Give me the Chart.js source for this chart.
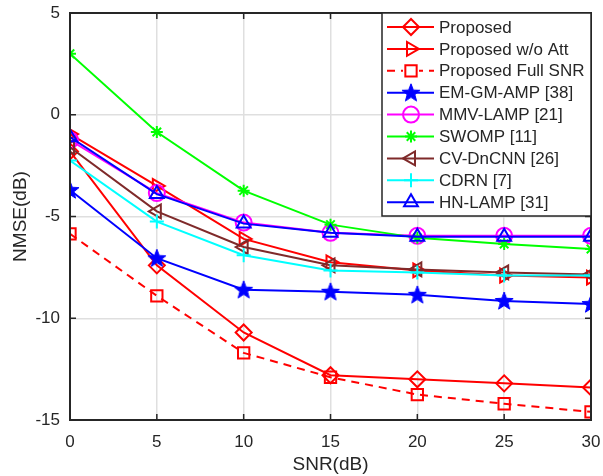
<!DOCTYPE html>
<html>
<head>
<meta charset="utf-8">
<script src="https://cdn.jsdelivr.net/npm/chart.js@4"></script>
<style>
html, body { margin: 0; padding: 0; background: #ffffff; }
#wrap { width: 603px; height: 476px; }
</style>
</head>
<body>
<div id="wrap"><canvas id="nmseChart" width="603" height="476"></canvas></div>
<script>

// SNR points (dB)
const snr = [0, 5, 10, 15, 20, 25, 30];

// NMSE per method (dB)
const proposed     = [-1.8, -7.4, -10.7, -12.8, -13.0, -13.2, -13.4];
const proposedNoAtt = [-0.95, -3.5, -6.1, -7.25, -7.65, -7.9, -8.0];
const proposedFull = [-5.85, -8.9, -11.7, -12.9, -13.75, -14.2, -14.6];
const emGmAmp      = [-3.7, -7.05, -8.6, -8.7, -8.85, -9.15, -9.3];
const mmvLamp      = [-1.25, -3.85, -5.3, -5.8, -5.95, -5.95, -5.95];
const swomp        = [3.0, -0.85, -3.73, -5.4, -6.05, -6.35, -6.6];
const cvDnCnn      = [-1.6, -4.75, -6.5, -7.4, -7.6, -7.75, -7.85];
const cdrn         = [-2.25, -5.25, -6.9, -7.65, -7.75, -7.9, -7.9];
const hnLamp       = [-1.1, -3.9, -5.35, -5.8, -6.0, -6.0, -6.0];

const xTicks = [0, 5, 10, 15, 20, 25, 30];
const yTicks = [-15, -10, -5, 0, 5];

const fontFamily = "'Liberation Sans', Arial, Helvetica, sans-serif";
const textColor = "#262626";

// filled pentagram for EM-GM-AMP
function makeStar(color) {
    let c = document.createElement("canvas");
    c.width = 20;
    c.height = 20;
    let g = c.getContext("2d");
    g.beginPath();
    for (let i = 0; i < 10; i++) {
        let r = i % 2 === 0 ? 9.5 : 4;
        let a = -Math.PI / 2 + i * Math.PI / 5;
        let px = 10 + r * Math.cos(a);
        let py = 10.5 + r * Math.sin(a);
        if (i === 0) g.moveTo(px, py); else g.lineTo(px, py);
    }
    g.closePath();
    g.fillStyle = color;
    g.fill();
    g.strokeStyle = color;
    g.lineWidth = 1;
    g.stroke();
    return c;
}
const starImg = makeStar("#0000ff");

function pts(arr) {
    return arr.map((v, i) => ({ x: snr[i], y: v }));
}

const series = [
    { label: "Proposed", data: proposed, color: "#ff0000", style: "rectRot", radius: 8 },
    { label: "Proposed w/o Att", data: proposedNoAtt, color: "#ff0000", style: "triangle", rotation: 90, radius: 8 },
    { label: "Proposed Full SNR", data: proposedFull, color: "#ff0000", style: "rect", radius: 8, dash: [8, 6] },
    { label: "EM-GM-AMP [38]", data: emGmAmp, color: "#0000ff", style: starImg, radius: 9 },
    { label: "MMV-LAMP [21]", data: mmvLamp, color: "#ff00ff", style: "circle", radius: 8 },
    { label: "SWOMP [11]", data: swomp, color: "#00ff00", style: "star", radius: 6 },
    { label: "CV-DnCNN [26]", data: cvDnCnn, color: "#7f2a2a", style: "triangle", rotation: -90, radius: 8 },
    { label: "CDRN [7]", data: cdrn, color: "#00ffff", style: "cross", radius: 7 },
    { label: "HN-LAMP [31]", data: hnLamp, color: "#0000ff", style: "triangle", radius: 8 }
];

const datasets = series.map((s, i) => ({
    label: s.label,
    data: pts(s.data),
    borderColor: s.color,
    backgroundColor: "rgba(0,0,0,0)",
    borderWidth: 2,
    borderDash: s.dash || [],
    pointStyle: s.style,
    pointRotation: s.rotation || 0,
    pointRadius: s.radius,
    pointBorderWidth: 2,
    pointBorderColor: s.color,
    pointBackgroundColor: "rgba(0,0,0,0)",
    tension: 0,
    order: 20 - i
}));

// inward ticks on all four sides + box, like MATLAB
const boxPlugin = {
    id: "boxPlugin",
    afterDatasetsDraw(chart) {
        const { ctx, chartArea: a, scales } = chart;
        ctx.save();
        ctx.strokeStyle = textColor;
        ctx.lineWidth = 2;
        ctx.strokeRect(a.left, a.top, a.right - a.left, a.bottom - a.top);
        ctx.lineWidth = 1.5;
        ctx.beginPath();
        xTicks.forEach(t => {
            let px = scales.x.getPixelForValue(t);
            ctx.moveTo(px, a.bottom); ctx.lineTo(px, a.bottom - 6);
            ctx.moveTo(px, a.top); ctx.lineTo(px, a.top + 6);
        });
        yTicks.forEach(t => {
            let py = scales.y.getPixelForValue(t);
            ctx.moveTo(a.left, py); ctx.lineTo(a.left + 6, py);
            ctx.moveTo(a.right, py); ctx.lineTo(a.right - 6, py);
        });
        ctx.stroke();
        ctx.restore();
    },
    afterDraw(chart) {
        // legend box in the top right corner of the axes
        const { ctx, chartArea: a } = chart;
        const right = a.right;
        const top = a.top;
        const left = right - 209;
        const height = 203;
        ctx.save();
        ctx.fillStyle = "#ffffff";
        ctx.fillRect(left, top, right - left, height);
        ctx.strokeStyle = textColor;
        ctx.lineWidth = 1.5;
        ctx.strokeRect(left, top, right - left, height);
        ctx.font = "17px " + fontFamily;
        ctx.textBaseline = "middle";
        ctx.textAlign = "left";
        chart.data.datasets.forEach((ds, i) => {
            let cy = top + 14 + i * 21.9;
            ctx.strokeStyle = ds.borderColor;
            ctx.lineWidth = 2;
            ctx.setLineDash(ds.borderDash);
            ctx.beginPath();
            ctx.moveTo(left + 5, cy);
            ctx.lineTo(left + 52, cy);
            ctx.stroke();
            ctx.setLineDash([]);
            ctx.fillStyle = "#ffffff";
            if (ds.borderDash.length) {
                ctx.fillRect(left + 21, cy - 7, 16, 14);
            }
            ctx.lineWidth = 2;
            ctx.fillStyle = "rgba(0,0,0,0)";
            Chart.helpers.drawPoint(ctx, {
                pointStyle: ds.pointStyle,
                rotation: ds.pointRotation,
                radius: ds.pointRadius,
                borderWidth: 2
            }, left + 29, cy);
            ctx.fillStyle = textColor;
            ctx.fillText(ds.label, left + 57, cy + 1);
        });
        ctx.restore();
    }
};

new Chart(document.getElementById("nmseChart"), {
    type: "line",
    data: { datasets: datasets },
    options: {
        responsive: false,
        animation: false,
        devicePixelRatio: 1,
        layout: { padding: { left: 0, right: 12, top: 13, bottom: 0 } },
        plugins: {
            legend: { display: false },
            tooltip: { enabled: false }
        },
        scales: {
            x: {
                type: "linear",
                min: 0,
                max: 30,
                afterBuildTicks(scale) { scale.ticks = xTicks.map(v => ({ value: v })); },
                afterFit(scale) {
                    scale.height = 56;
                    scale.paddingLeft = 0;
                    scale.paddingRight = 0;
                },
                grid: { color: "#dfdfdf", lineWidth: 1.5, drawTicks: false },
                border: { display: false },
                ticks: { color: textColor, font: { family: fontFamily, size: 17 }, padding: 12, maxRotation: 0 },
                title: { display: true, text: "SNR(dB)", color: textColor, font: { family: fontFamily, size: 19 }, padding: { top: 6, bottom: 0 } }
            },
            y: {
                type: "linear",
                min: -15,
                max: 5,
                afterBuildTicks(scale) { scale.ticks = yTicks.map(v => ({ value: v })); },
                afterFit(scale) {
                    scale.width = 70;
                    scale.paddingTop = 0;
                    scale.paddingBottom = 0;
                },
                grid: { color: "#dfdfdf", lineWidth: 1.5, drawTicks: false },
                border: { display: false },
                ticks: { color: textColor, font: { family: fontFamily, size: 17 }, padding: 10 },
                title: { display: true, text: "NMSE(dB)", color: textColor, font: { family: fontFamily, size: 19 }, padding: { top: 9, bottom: 0 } }
            }
        }
    },
    plugins: [boxPlugin]
});
</script>
</body>
</html>
